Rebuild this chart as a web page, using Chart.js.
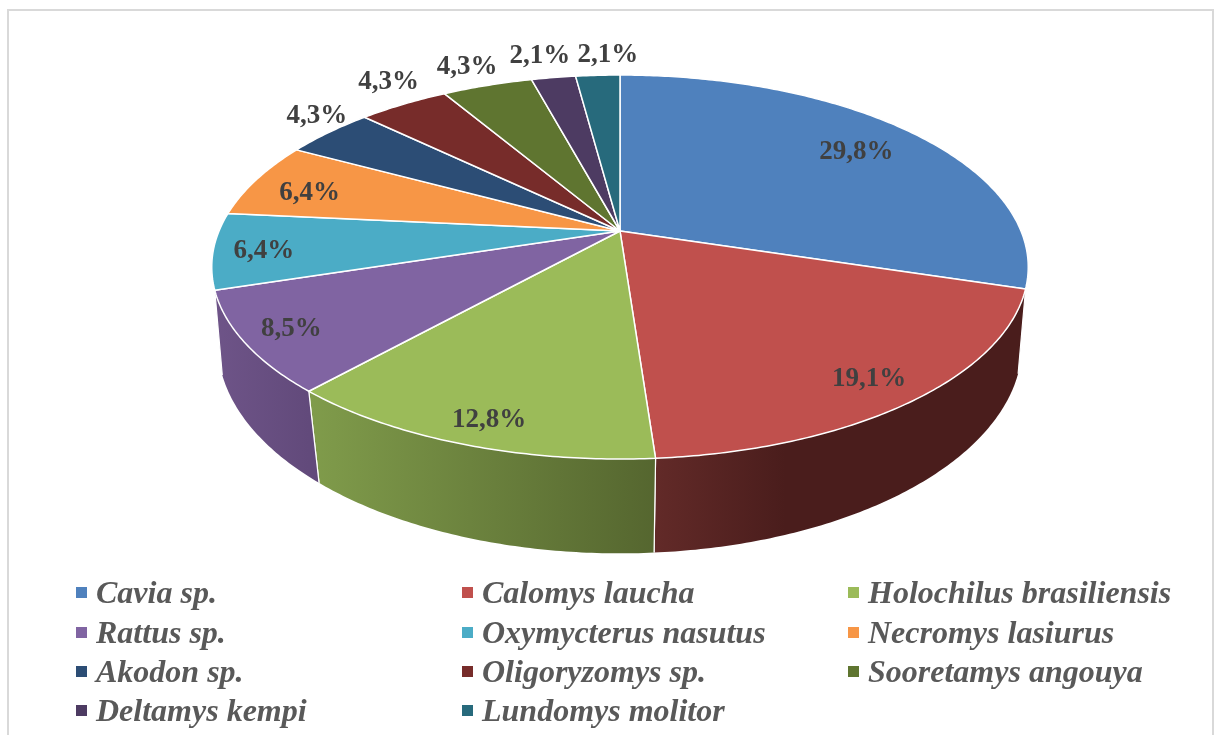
<!DOCTYPE html>
<html><head><meta charset="utf-8">
<script src="https://cdn.jsdelivr.net/npm/chart.js@4/dist/chart.umd.js"></script>
<style>
html,body{margin:0;padding:0;background:#fff;overflow:hidden}
#wrap{position:relative;width:1218px;height:735px}
#frame{position:absolute;left:7px;top:9px;height:726px;border:2px solid #d9d9d9;border-bottom:none;box-sizing:border-box;width:1207px}
canvas{position:absolute;left:0;top:0}
</style></head>
<body><div id="wrap"><div id="frame"></div><canvas id="c" width="1218" height="735"></canvas></div>
<script>
const categories = ['Cavia sp.','Calomys laucha','Holochilus brasiliensis','Rattus sp.','Oxymycterus nasutus','Necromys lasiurus','Akodon sp.','Oligoryzomys sp.','Sooretamys angouya','Deltamys kempi','Lundomys molitor'];
const percents = [29.8,19.1,12.8,8.5,6.4,6.4,4.3,4.3,4.3,2.1,2.1];
const valueLabels = ['29,8%','19,1%','12,8%','8,5%','6,4%','6,4%','4,3%','4,3%','4,3%','2,1%','2,1%'];
const colors = ['#4f81bd','#c0504d','#9bbb59','#8064a2','#4bacc6','#f79646','#2c4d75','#772c2a','#5f7530','#4d3b62','#276a7c'];
const wallShades = {1:['#622a28','#4a1d1c',0.35],2:['#809c4b','#55662f',1],3:['#6e5488','#624a7b',1]};
const labelRadius = [.79,.88,.9,.88,.88,.85,1.1,1.1,1.1,1.1,1.1];
const labelNudge = [[2,1],[-3,1],[8,1],[-3,1],[1,3],[1,6],[14,-8],[4,-11],[-9,-6],[-8,-9],[12,-7]];

// perspective of the disc: top rim and bottom rim
const TOP = {cx:620, cy:231, a:401, b:185.25, p:.1875};
const BOTTOM = {cx:620, cy:310.5, a:397, b:204, p:.16};
function project(theta, r, P){
  const X = r*Math.sin(theta), Y = -r*Math.cos(theta), w = 1-P.p*Y;
  return [P.cx + P.a*X/w, P.cy + P.b*Y/w];
}
function rim(ctx, t0, t1, P, first){
  const n = Math.max(2, Math.ceil(Math.abs(t1-t0)*90));
  for(let i=0;i<=n;i++){
    const [x,y] = project(t0+(t1-t0)*i/n,1,P);
    if(i===0&&first) ctx.moveTo(x,y); else ctx.lineTo(x,y);
  }
}
const pie3d = {
  id:'pie3d',
  beforeDatasetDraw(chart,args){
    const ctx = chart.ctx, arcs = chart.getDatasetMeta(args.index).data;
    const th = a => a.startAngle+Math.PI/2, te = a => a.endAngle+Math.PI/2;
    ctx.save();
    ctx.lineJoin='round';
    // side walls of the front slices
    arcs.forEach((a,i)=>{
      const t0=th(a), t1=te(a);
      if(t0<Math.PI/2 || t1>Math.PI*1.5) return;
      ctx.beginPath();
      rim(ctx,t0,t1,TOP,true);
      rim(ctx,t1,t0,BOTTOM,false);
      ctx.closePath();
      const pa=project(t0,1,TOP), pb=project(t1,1,TOP), sh=wallShades[i];
      const xL=Math.min(pa[0],pb[0]), xR=Math.max(pa[0],pb[0]);
      const g=ctx.createLinearGradient(xL,0,xR,0);
      g.addColorStop(0,sh[0]); g.addColorStop(sh[2],sh[1]); if(sh[2]<1) g.addColorStop(1,sh[1]);
      ctx.fillStyle=g; ctx.fill();
      ctx.strokeStyle='#fff'; ctx.lineWidth=1.2;
      const e1=project(t0,1,BOTTOM), e3=project(t1,1,BOTTOM);
      ctx.beginPath(); ctx.moveTo(pa[0],pa[1]); ctx.lineTo(e1[0],e1[1]); ctx.moveTo(pb[0],pb[1]); ctx.lineTo(e3[0],e3[1]); ctx.stroke();
    });
    // top faces
    arcs.forEach((a,i)=>{
      ctx.beginPath(); ctx.moveTo(TOP.cx,TOP.cy);
      rim(ctx,th(a),te(a),TOP,false);
      ctx.closePath();
      ctx.fillStyle=colors[i]; ctx.fill();
      ctx.strokeStyle='#fff'; ctx.lineWidth=1.5; ctx.stroke();
    });
    // value labels
    ctx.font='bold 27px "Liberation Serif"';
    ctx.fillStyle='#404040'; ctx.textAlign='center'; ctx.textBaseline='middle';
    arcs.forEach((a,i)=>{
      const m=(th(a)+te(a))/2, q=project(m,labelRadius[i],TOP);
      ctx.fillText(valueLabels[i], q[0]+labelNudge[i][0], q[1]+labelNudge[i][1]);
    });
    // legend
    const colX=[76,462,848], rowY=[592,632,671,710];
    ctx.textAlign='left'; ctx.textBaseline='alphabetic';
    ctx.font='italic bold 32px "Liberation Serif"';
    categories.forEach((c,i)=>{
      const x=colX[i%3], y=rowY[Math.floor(i/3)];
      ctx.fillStyle=colors[i]; ctx.fillRect(x,y-5,11,11);
      ctx.fillStyle='#595959'; ctx.fillText(c,x+20,y+11);
    });
    ctx.restore();
    return false;
  }
};
new Chart(document.getElementById('c'),{
  type:'pie',
  data:{labels:categories,datasets:[{data:percents,backgroundColor:colors,borderColor:'#fff'}]},
  options:{responsive:false,animation:false,plugins:{legend:{display:false},tooltip:{enabled:false}}},
  plugins:[pie3d]
});
</script></body></html>
